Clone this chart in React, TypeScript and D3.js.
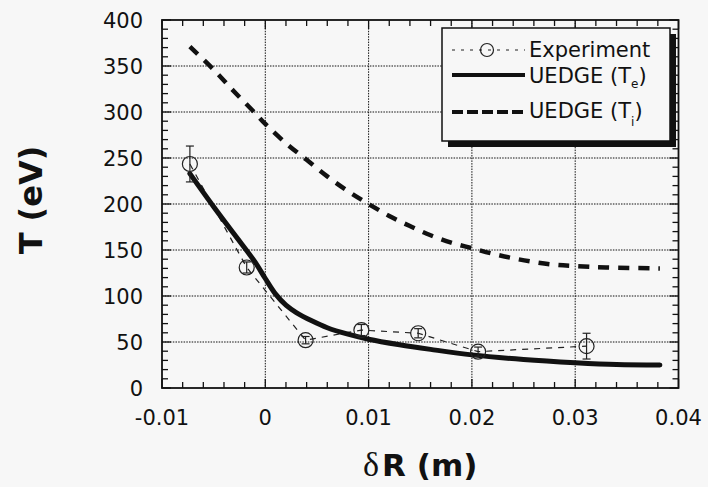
import React, { useEffect, useRef } from 'react';
import * as d3 from 'd3';

// experiment (open circles + error bars)
const expR = [-0.0073, -0.0018, 0.0039, 0.0093, 0.0148, 0.0206, 0.0311];
const expT = [243.5, 131, 52, 63, 59.5, 39.5, 45.5];
const expErr = [19.5, 6, 4, 6, 5, 5, 14];

// UEDGE electron temperature
const teR = [-0.0073, -0.005, -0.003, -0.001, 0, 0.001, 0.002, 0.003, 0.0045, 0.006, 0.008, 0.01, 0.013, 0.016, 0.02, 0.025, 0.03, 0.034, 0.0382];
const teT = [233, 197, 167, 137, 119, 102, 90, 82, 73, 65.5, 58.5, 53, 47, 42, 36, 31, 27.5, 25.5, 25];

// UEDGE ion temperature
const tiR = [-0.0073, -0.005, -0.003, -0.001, 0, 0.002, 0.004, 0.006, 0.008, 0.01, 0.012, 0.014, 0.016, 0.018, 0.02, 0.022, 0.024, 0.026, 0.028, 0.03, 0.033, 0.0382];
const tiT = [371, 346, 322, 299, 287, 266, 248, 230, 214, 200, 187, 176, 166, 158, 152, 146, 141, 137, 134, 132.5, 131, 130];

const xTicks = [-0.01, 0, 0.01, 0.02, 0.03, 0.04];
const yTicks = [0, 50, 100, 150, 200, 250, 300, 350, 400];

const W = 708;
const H = 487;
const FONT = '"DejaVu Sans", Arial, sans-serif';

export default function App() {
  const ref = useRef<SVGSVGElement>(null);

  useEffect(() => {
    const svg = d3.select(ref.current);
    svg.selectAll('*').remove();

    const x = d3.scaleLinear().domain([-0.01, 0.04]).range([162, 678.5]);
    const y = d3.scaleLinear().domain([0, 400]).range([388, 20]);
    const [x0, x1] = x.range();
    const [y0, y1] = y.range();

    svg.append('rect').attr('width', W).attr('height', H).attr('fill', '#f7f7f7');

    // dotted grid
    const grid = svg.append('g').attr('stroke', '#111').attr('stroke-width', 1).attr('stroke-dasharray', '1.5,1.2');
    xTicks.slice(1, -1).forEach((v) => {
      grid.append('line').attr('x1', x(v)).attr('x2', x(v)).attr('y1', y1).attr('y2', y0);
    });
    yTicks.slice(1, -1).forEach((v) => {
      grid.append('line').attr('x1', x0).attr('x2', x1).attr('y1', y(v)).attr('y2', y(v));
    });

    // minor / major ticks, inward on all four sides
    const ticks = svg.append('g').attr('stroke', '#111').attr('stroke-width', 1.3);
    d3.range(0, 26).forEach((i) => {
      const v = -0.01 + i * 0.002;
      const len = i % 5 === 0 ? 9 : 6;
      ticks.append('line').attr('x1', x(v)).attr('x2', x(v)).attr('y1', y0).attr('y2', y0 - len);
      ticks.append('line').attr('x1', x(v)).attr('x2', x(v)).attr('y1', y1).attr('y2', y1 + len);
    });
    d3.range(0, 41).forEach((i) => {
      const v = i * 10;
      const len = i % 5 === 0 ? 9 : 6;
      ticks.append('line').attr('x1', x0).attr('x2', x0 + len).attr('y1', y(v)).attr('y2', y(v));
      ticks.append('line').attr('x1', x1).attr('x2', x1 - len).attr('y1', y(v)).attr('y2', y(v));
    });

    svg.append('rect')
      .attr('x', x0).attr('y', y1).attr('width', x1 - x0).attr('height', y0 - y1)
      .attr('fill', 'none').attr('stroke', '#111').attr('stroke-width', 1.8);

    // tick labels
    svg.append('g').selectAll('text').data(yTicks).join('text')
      .attr('x', 143).attr('y', (d) => y(d)).attr('dy', '0.36em')
      .attr('text-anchor', 'end').attr('font-family', FONT).attr('font-size', 21).attr('fill', '#111')
      .text((d) => d);
    svg.append('g').selectAll('text').data(xTicks).join('text')
      .attr('x', (d) => x(d)).attr('y', 425)
      .attr('text-anchor', 'middle').attr('font-family', FONT).attr('font-size', 21).attr('fill', '#111')
      .text((d) => (d === 0 ? '0' : String(d)));

    // axis titles
    const xt = svg.append('text').attr('x', (x0 + x1) / 2).attr('y', 476).attr('text-anchor', 'middle')
      .attr('font-family', FONT).attr('font-size', 31).attr('font-weight', 'bold').attr('fill', '#111');
    xt.append('tspan').attr('font-family', '"Liberation Serif", "DejaVu Serif", serif').attr('font-weight', 'normal').attr('font-size', 34).text('δ');
    xt.append('tspan').attr('dx', 3).text('R (m)');

    svg.append('text').attr('transform', 'translate(42,200) rotate(-90)').attr('text-anchor', 'middle')
      .attr('font-family', FONT).attr('font-size', 32).attr('font-weight', 'bold').attr('fill', '#111')
      .text('T (eV)');

    // curves
    const line = d3.line<[number, number]>().x((d) => x(d[0])).y((d) => y(d[1])).curve(d3.curveCatmullRom);

    svg.append('path')
      .attr('d', line(tiR.map((r, i) => [r, tiT[i]])))
      .attr('fill', 'none').attr('stroke', '#111').attr('stroke-width', 4.5).attr('stroke-dasharray', '11,9');

    svg.append('path')
      .attr('d', d3.line<[number, number]>().x((d) => x(d[0])).y((d) => y(d[1]))(expR.map((r, i) => [r, expT[i]])))
      .attr('fill', 'none').attr('stroke', '#222').attr('stroke-width', 1.2).attr('stroke-dasharray', '6,6');

    svg.append('path')
      .attr('d', line(teR.map((r, i) => [r, teT[i]])))
      .attr('fill', 'none').attr('stroke', '#111').attr('stroke-width', 5).attr('stroke-linecap', 'round');

    const pts = svg.append('g').attr('stroke', '#222').attr('stroke-width', 1.2).attr('fill', 'none');
    expR.forEach((r, i) => {
      const cx = x(r);
      const top = y(expT[i] + expErr[i]);
      const bot = y(expT[i] - expErr[i]);
      pts.append('line').attr('x1', cx).attr('x2', cx).attr('y1', top).attr('y2', bot);
      pts.append('line').attr('x1', cx - 4).attr('x2', cx + 4).attr('y1', top).attr('y2', top);
      pts.append('line').attr('x1', cx - 4).attr('x2', cx + 4).attr('y1', bot).attr('y2', bot);
      pts.append('circle').attr('cx', cx).attr('cy', y(expT[i])).attr('r', 7.5);
    });

    // legend
    const lg = svg.append('g');
    const bx = 442, by = 28, bw = 228, bh = 113;
    lg.append('rect').attr('x', bx + 6).attr('y', by + 6).attr('width', bw).attr('height', bh).attr('fill', '#111');
    lg.append('rect').attr('x', bx).attr('y', by).attr('width', bw).attr('height', bh)
      .attr('fill', '#f7f7f7').attr('stroke', '#111').attr('stroke-width', 1.5);

    const lx0 = 452, lx1 = 525, tx = 529;
    lg.append('line').attr('x1', lx0).attr('x2', lx1).attr('y1', 50).attr('y2', 50)
      .attr('stroke', '#222').attr('stroke-width', 1.2).attr('stroke-dasharray', '3,6');
    lg.append('circle').attr('cx', 487).attr('cy', 50).attr('r', 6.5).attr('fill', 'none').attr('stroke', '#222').attr('stroke-width', 1.2);
    lg.append('line').attr('x1', lx0).attr('x2', lx1).attr('y1', 75).attr('y2', 75)
      .attr('stroke', '#111').attr('stroke-width', 4);
    lg.append('line').attr('x1', lx0).attr('x2', lx1).attr('y1', 112).attr('y2', 112)
      .attr('stroke', '#111').attr('stroke-width', 4).attr('stroke-dasharray', '11,4');

    const lt = (yy: number) => lg.append('text').attr('x', tx).attr('y', yy)
      .attr('font-family', FONT).attr('font-size', 21).attr('fill', '#111');
    lt(57).text('Experiment');
    const te = lt(83);
    te.append('tspan').text('UEDGE (T');
    te.append('tspan').attr('font-size', 12).attr('dy', 5).text('e');
    te.append('tspan').attr('dy', -5).text(')');
    const ti = lt(118);
    ti.append('tspan').text('UEDGE (T');
    ti.append('tspan').attr('font-size', 12).attr('dy', 8).text('i');
    ti.append('tspan').attr('dy', -8).text(')');
  }, []);

  return (
    <div style={{ position: 'absolute', left: 0, top: 0, width: W, height: H }}>
      <svg ref={ref} width={W} height={H} style={{ display: 'block' }} />
    </div>
  );
}
